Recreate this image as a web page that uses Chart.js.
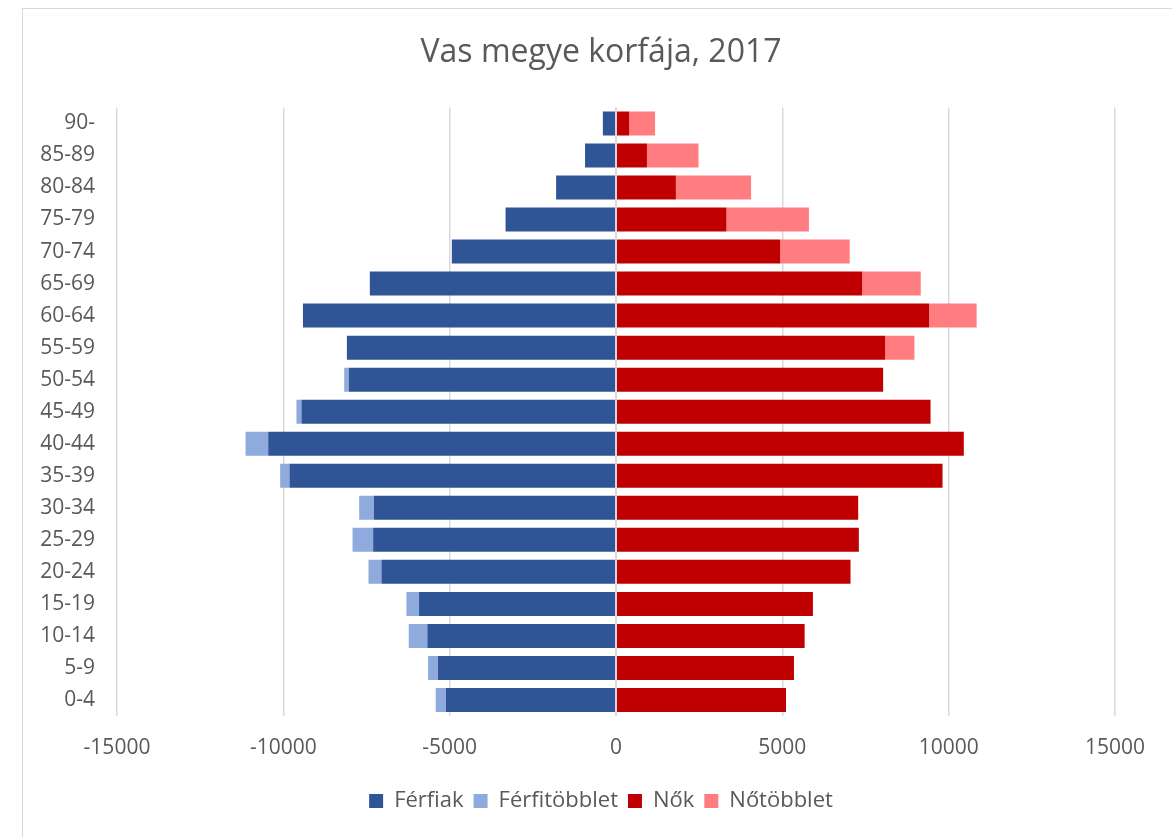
<!DOCTYPE html>
<html lang="hu">
<head>
<meta charset="utf-8">
<title>Vas megye korfája, 2017</title>
<script src="https://cdn.jsdelivr.net/npm/chart.js@4.4.1/dist/chart.umd.min.js"></script>
<style>
    body { margin: 0; background: #fff; overflow: hidden; }
    #wrap { position: relative; width: 1172px; height: 837px; }
    #frame {
        position: absolute; left: 22px; top: 8px; width: 1200px; height: 900px;
        border-left: 1.5px solid #d9d9d9; border-top: 1.5px solid #d9d9d9;
    }
    #korfa { position: absolute; left: 0; top: 0; }
</style>
</head>
<body>
<div id="wrap">
    <div id="frame"></div>
    <canvas id="korfa" width="1172" height="837"></canvas>
</div>
<script>
// korcsoportok, alulról felfelé
const korcsoportok = ['0-4', '5-9', '10-14', '15-19', '20-24', '25-29', '30-34', '35-39', '40-44',
    '45-49', '50-54', '55-59', '60-64', '65-69', '70-74', '75-79', '80-84', '85-89', '90-'];

const ferfiak = [-5110, -5350, -5670, -5920, -7050, -7300, -7280, -9815, -10455,
    -9455, -8030, -8090, -9410, -7400, -4935, -3320, -1800, -930, -395];
const ferfiTobblet = [-310, -300, -560, -380, -390, -620, -440, -280, -680,
    -150, -140, 0, 0, 0, 0, 0, 0, 0, 0];
const nok = [5110, 5350, 5670, 5920, 7050, 7300, 7280, 9815, 10455,
    9455, 8030, 8090, 9410, 7400, 4935, 3320, 1800, 930, 395];
const noTobblet = [0, 0, 0, 0, 0, 0, 0, 0, 0,
    0, 0, 880, 1430, 1760, 2090, 2480, 2260, 1550, 780];

Chart.defaults.font.family = "'Open Sans', sans-serif";
Chart.defaults.color = '#595959';

// függőleges tengelyvonal a 0-nál, a sávok fölé rajzolva
const zeroLine = {
    id: 'zeroLine',
    afterDatasetsDraw(chart) {
        const x = chart.scales.x.getPixelForValue(0);
        const ctx = chart.ctx;
        ctx.save();
        ctx.strokeStyle = '#d9d9d9';
        ctx.lineWidth = 2;
        ctx.beginPath();
        ctx.moveTo(x, chart.chartArea.top);
        ctx.lineTo(x, chart.chartArea.bottom);
        ctx.stroke();
        ctx.restore();
    }
};

function makeDataset(label, data, color) {
    return {
        label: label,
        data: data,
        backgroundColor: color,
        borderWidth: 0,
        barPercentage: 0.75,
        categoryPercentage: 1
    };
}

new Chart(document.getElementById('korfa'), {
    type: 'bar',
    data: {
        labels: korcsoportok,
        datasets: [
            makeDataset('Férfiak', ferfiak, '#2f5597'),
            makeDataset('Férfitöbblet', ferfiTobblet, '#8faadc'),
            makeDataset('Nők', nok, '#c00000'),
            makeDataset('Nőtöbblet', noTobblet, '#ff7c80')
        ]
    },
    options: {
        indexAxis: 'y',
        responsive: false,
        animation: false,
        layout: { padding: { top: 20, right: 0, bottom: 15, left: 30 } },
        plugins: {
            title: {
                display: true,
                text: 'Vas megye korfája, 2017',
                font: { size: 32, weight: 'normal' },
                color: '#595959',
                padding: { top: 14, bottom: 35 }
            },
            legend: {
                position: 'bottom',
                labels: {
                    boxWidth: 14,
                    boxHeight: 14,
                    padding: 10,
                    font: { size: 22 },
                    color: '#595959'
                }
            },
            tooltip: { enabled: false }
        },
        scales: {
            x: {
                stacked: true,
                min: -15000,
                max: 15000,
                ticks: {
                    stepSize: 5000,
                    padding: 19,
                    font: { size: 21 },
                    color: '#595959',
                    callback: value => String(value)
                },
                grid: { color: '#d9d9d9', lineWidth: 1.5, drawTicks: false },
                border: { display: false },
                afterFit(scale) { scale.height = 64; }
            },
            y: {
                stacked: true,
                reverse: true,
                ticks: { padding: 22, font: { size: 21 }, color: '#595959' },
                grid: { display: false, drawTicks: false },
                border: { display: false },
                afterFit(scale) { scale.width = 87; }
            },
            // üres jobb oldali tengely, csak helyet foglal
            yRight: {
                type: 'category',
                position: 'right',
                ticks: { display: false },
                grid: { display: false, drawTicks: false },
                border: { display: false },
                afterFit(scale) { scale.width = 57; }
            }
        }
    },
    plugins: [zeroLine]
});
</script>
</body>
</html>
